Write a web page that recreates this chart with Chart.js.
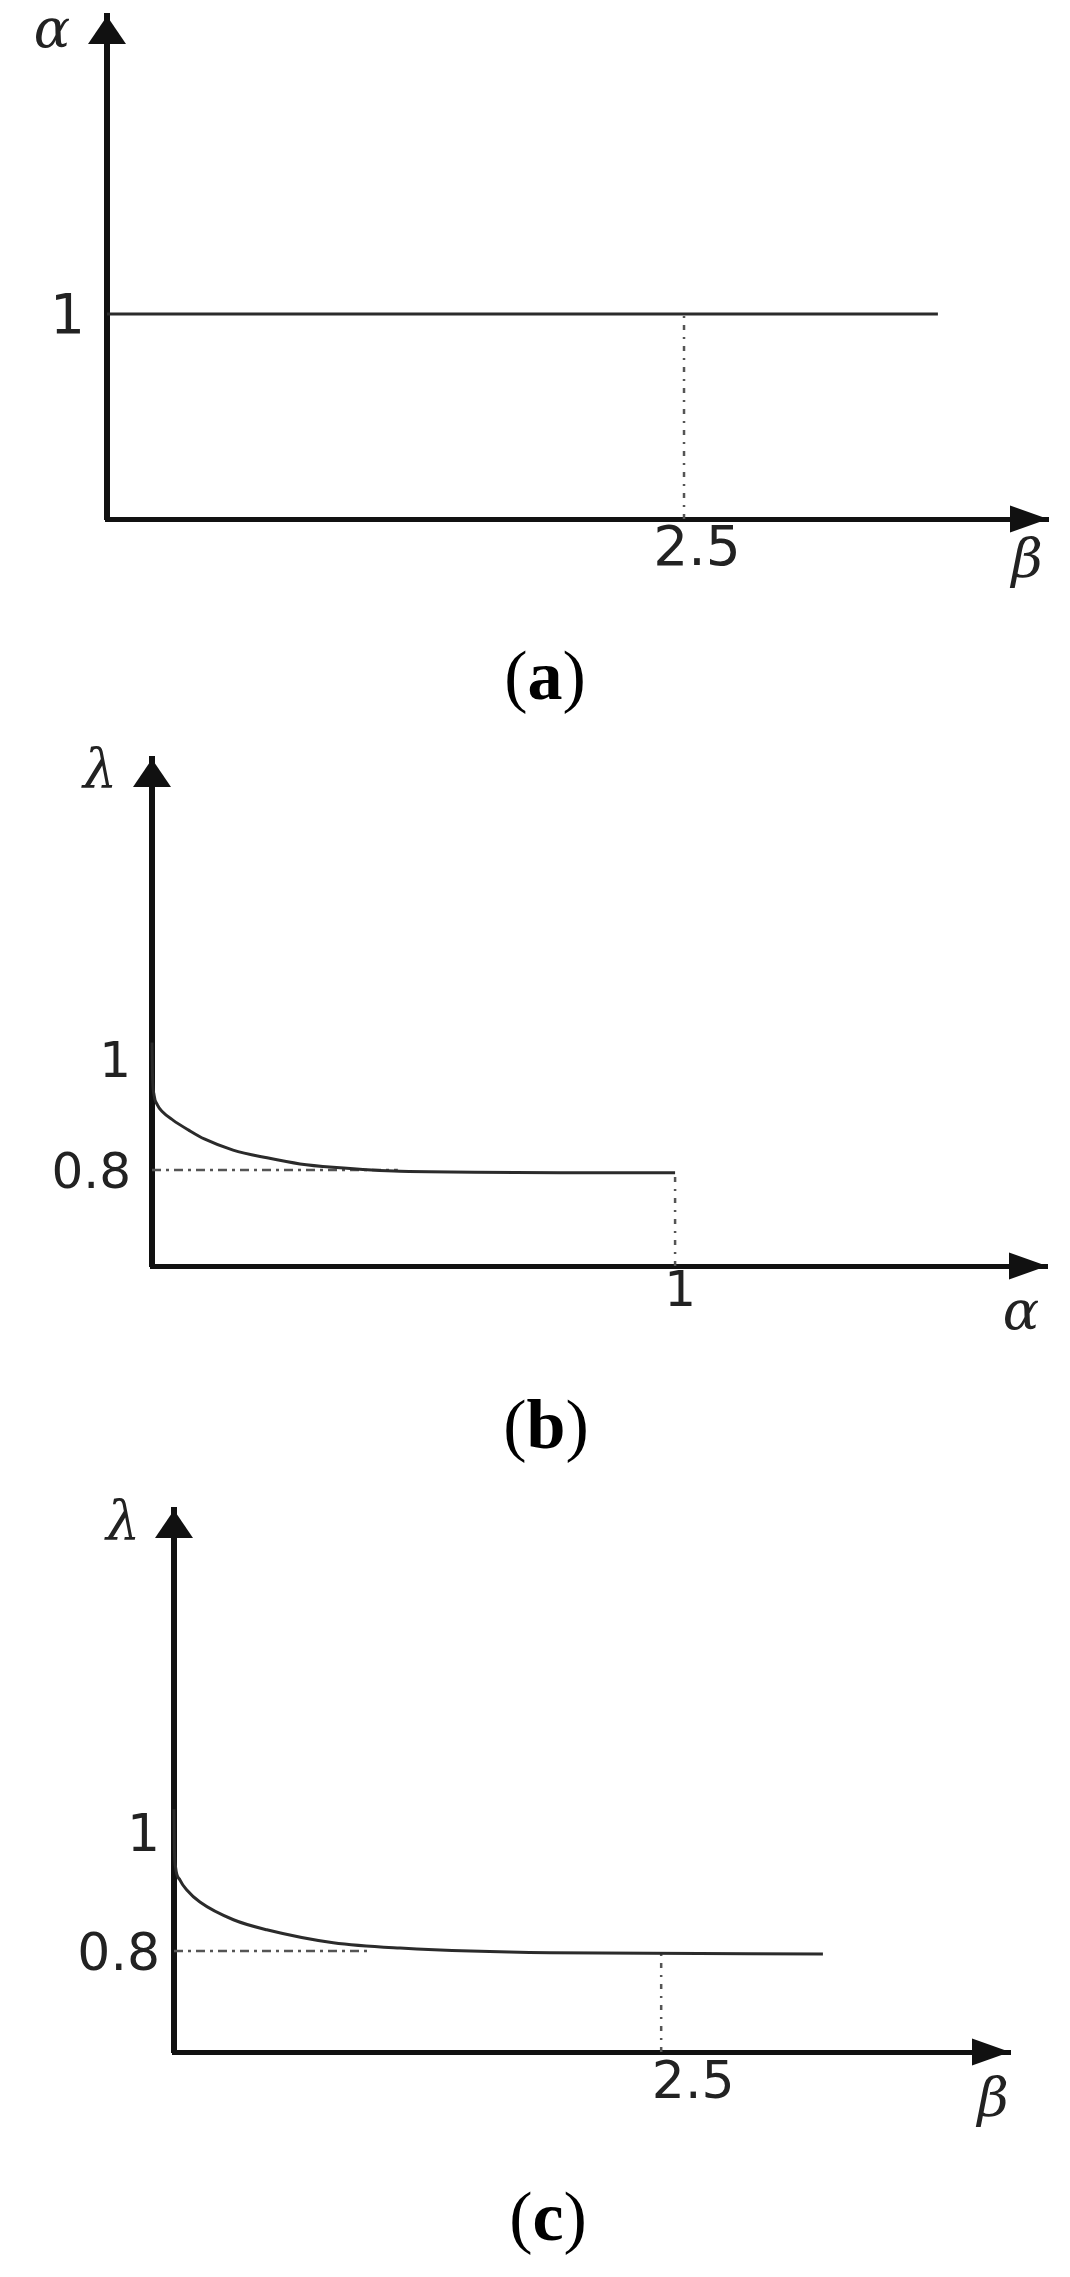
<!DOCTYPE html>
<html lang="es">
<head>
<meta charset="utf-8">
<title>Figura</title>
<script src="https://cdn.jsdelivr.net/npm/chart.js@4.4.1/dist/chart.umd.min.js"></script>
<style>
  body { margin: 0; background: #fff; }
  #lienzo { position: relative; width: 1070px; height: 2277px; }
  canvas { position: absolute; left: 0; }
  .pie {
    position: absolute; width: 200px; margin-left: -100px; text-align: center;
    font-family: "Liberation Serif", serif; font-size: 70px; line-height: 70px; color: #000;
  }
</style>
</head>
<body>
<div id="lienzo">
  <canvas id="graficoA" width="1070" height="620" style="top:0;width:1070px;height:620px"></canvas>
  <div class="pie" style="left:545px;top:641px">(<b>a</b>)</div>
  <canvas id="graficoB" width="1070" height="650" style="top:700px;width:1070px;height:650px"></canvas>
  <div class="pie" style="left:546px;top:1390px">(<b>b</b>)</div>
  <canvas id="graficoC" width="1070" height="720" style="top:1450px;width:1070px;height:720px"></canvas>
  <div class="pie" style="left:548px;top:2182px">(<b>c</b>)</div>
</div>
<script>
// Panel (a): α frente a β
const betaA = [0, 3.6];
const alfaA = [1, 1];
const guiaBetaA = [2.5, 2.5];
const guiaAlfaA = [0, 1];
const ticksXA = [2.5];
const ticksYA = [1];

// Panel (b): λ frente a α
const alfaB = [0, 0.001, 0.004, 0.01, 0.02, 0.04, 0.07, 0.1, 0.155, 0.22, 0.283, 0.346, 0.474, 1];
const lambdaB = [1.03, 0.97, 0.935, 0.918, 0.905, 0.89, 0.872, 0.856, 0.836, 0.822, 0.811, 0.805, 0.798, 0.795];
const guiaHorizXB = [0, 0.47];
const guiaHorizYB = [0.8, 0.8];
const guiaVertXB = [1, 1];
const guiaVertYB = [0.627, 0.795];
const ticksXB = [1];
const ticksYB = [0.8, 1];

// Panel (c): λ frente a β
const betaC = [0, 0.002, 0.008, 0.031, 0.067, 0.133, 0.305, 0.476, 0.817, 1.16, 1.93, 3.33];
const lambdaC = [1.04, 0.975, 0.942, 0.92, 0.903, 0.883, 0.853, 0.836, 0.814, 0.805, 0.797, 0.795];
const guiaHorizXC = [0, 1.0];
const guiaHorizYC = [0.8, 0.8];
const guiaVertXC = [2.5, 2.5];
const guiaVertYC = [0.629, 0.796];
const ticksXC = [2.5];
const ticksYC = [0.8, 1];

const colores = {
    eje: '#111',
    curva: '#2b2b2b',
    guia: '#555',
    texto: '#222'
};

const puntos = (xs, ys) => xs.map((x, i) => ({ x, y: ys[i] }));

const serieCurva = (datos) => ({
    data: datos,
    borderColor: colores.curva,
    borderWidth: 3,
    pointRadius: 0,
    cubicInterpolationMode: 'monotone',
    clip: false
});

const serieGuia = (datos, patron) => ({
    data: datos,
    borderColor: colores.guia,
    borderWidth: 2.5,
    borderDash: patron,
    pointRadius: 0,
    clip: false
});

// Flechas de los ejes y nombres griegos
const flechas = {
    id: 'flechas',
    afterDraw(chart, args, opts) {
        const { ctx, chartArea: a } = chart;
        ctx.save();
        ctx.fillStyle = colores.eje;
        ctx.beginPath();
        ctx.moveTo(a.left, a.top);
        ctx.lineTo(a.left - 19, a.top + 28);
        ctx.lineTo(a.left + 19, a.top + 28);
        ctx.closePath();
        ctx.fill();
        ctx.beginPath();
        ctx.moveTo(a.right, a.bottom);
        ctx.lineTo(a.right - 38, a.bottom - 13.5);
        ctx.lineTo(a.right - 38, a.bottom + 13.5);
        ctx.closePath();
        ctx.fill();
        ctx.font = 'italic 54px "DejaVu Serif"';
        ctx.fillStyle = colores.texto;
        ctx.textAlign = 'center';
        ctx.textBaseline = 'middle';
        ctx.fillText(opts.nombreY, a.left + opts.posY[0], a.top + opts.posY[1]);
        ctx.fillText(opts.nombreX, a.right + opts.posX[0], a.bottom + opts.posX[1]);
        ctx.restore();
    }
};

const crearGrafico = (id, cfg) => {
    const canvas = document.getElementById(id);
    const ancho = canvas.width, alto = canvas.height;
    const fuente = { family: 'DejaVu Sans', size: cfg.tamFuente, lineHeight: 1 };
    return new Chart(canvas.getContext('2d'), {
        type: 'line',
        data: { datasets: cfg.series },
        options: {
            responsive: false,
            animation: false,
            events: [],
            layout: {
                padding: {
                    left: 0,
                    top: cfg.arriba,
                    right: ancho - cfg.der,
                    bottom: alto - cfg.abajo - cfg.altoX
                }
            },
            plugins: {
                legend: { display: false },
                tooltip: { enabled: false },
                flechas: cfg.nombres
            },
            scales: {
                x: {
                    type: 'linear',
                    min: 0,
                    max: cfg.xMax,
                    afterFit: s => {
                        s.height = cfg.altoX;
                        s.paddingLeft = 0;
                        s.paddingRight = 0;
                    },
                    afterBuildTicks: s => { s.ticks = cfg.ticksX.map(v => ({ value: v })); },
                    grid: { display: false, drawTicks: false },
                    border: { display: true, color: colores.eje, width: 5 },
                    ticks: {
                        padding: cfg.padX,
                        labelOffset: cfg.despX,
                        maxRotation: 0,
                        autoSkip: false,
                        color: colores.texto,
                        font: fuente,
                        callback: v => String(v)
                    }
                },
                y: {
                    type: 'linear',
                    position: 'left',
                    min: cfg.yMin,
                    max: cfg.yMax,
                    afterFit: s => {
                        s.width = cfg.izq;
                        s.paddingTop = 0;
                        s.paddingBottom = 0;
                    },
                    afterBuildTicks: s => { s.ticks = cfg.ticksY.map(v => ({ value: v })); },
                    grid: { display: false, drawTicks: false },
                    border: { display: true, color: colores.eje, width: 6 },
                    ticks: {
                        padding: cfg.padY,
                        labelOffset: 5,
                        autoSkip: false,
                        color: colores.texto,
                        font: fuente,
                        callback: v => String(v)
                    }
                }
            }
        },
        plugins: [flechas]
    });
};

crearGrafico('graficoA', {
    izq: 107, der: 1048, arriba: 16, abajo: 519, altoX: 80,
    xMax: 4.077, yMin: 0, yMax: 2.454,
    ticksX: ticksXA, ticksY: ticksYA,
    tamFuente: 55, padX: 4, despX: 13, padY: 22,
    nombres: { nombreX: 'β', nombreY: 'α', posX: [-21, 44], posY: [-55, 17] },
    series: [
        serieCurva(puntos(betaA, alfaA)),
        serieGuia(puntos(guiaBetaA, guiaAlfaA), [5, 7, 2, 7])
    ]
});

crearGrafico('graficoB', {
    izq: 152, der: 1047, arriba: 59, abajo: 566, altoX: 70,
    xMax: 1.711, yMin: 0.627, yMax: 1.541,
    ticksX: ticksXB, ticksY: ticksYB,
    tamFuente: 50, padX: 2, despX: 5, padY: 21,
    nombres: { nombreX: 'α', nombreY: 'λ', posX: [-26, 49], posY: [-52, 14] },
    series: [
        serieCurva(puntos(alfaB, lambdaB)),
        serieGuia(puntos(guiaHorizXB, guiaHorizYB), [9, 5, 3, 5]),
        serieGuia(puntos(guiaVertXB, guiaVertYB), [5, 7, 2, 7])
    ]
});

crearGrafico('graficoC', {
    izq: 174, der: 1010, arriba: 60, abajo: 602, altoX: 70,
    xMax: 4.29, yMin: 0.629, yMax: 1.547,
    ticksX: ticksXC, ticksY: ticksYC,
    tamFuente: 52, padX: 6, despX: 32, padY: 14,
    nombres: { nombreX: 'β', nombreY: 'λ', posX: [-17, 50], posY: [-51, 15] },
    series: [
        serieCurva(puntos(betaC, lambdaC)),
        serieGuia(puntos(guiaHorizXC, guiaHorizYC), [9, 5, 3, 5]),
        serieGuia(puntos(guiaVertXC, guiaVertYC), [5, 7, 2, 7])
    ]
});
</script>
</body>
</html>
